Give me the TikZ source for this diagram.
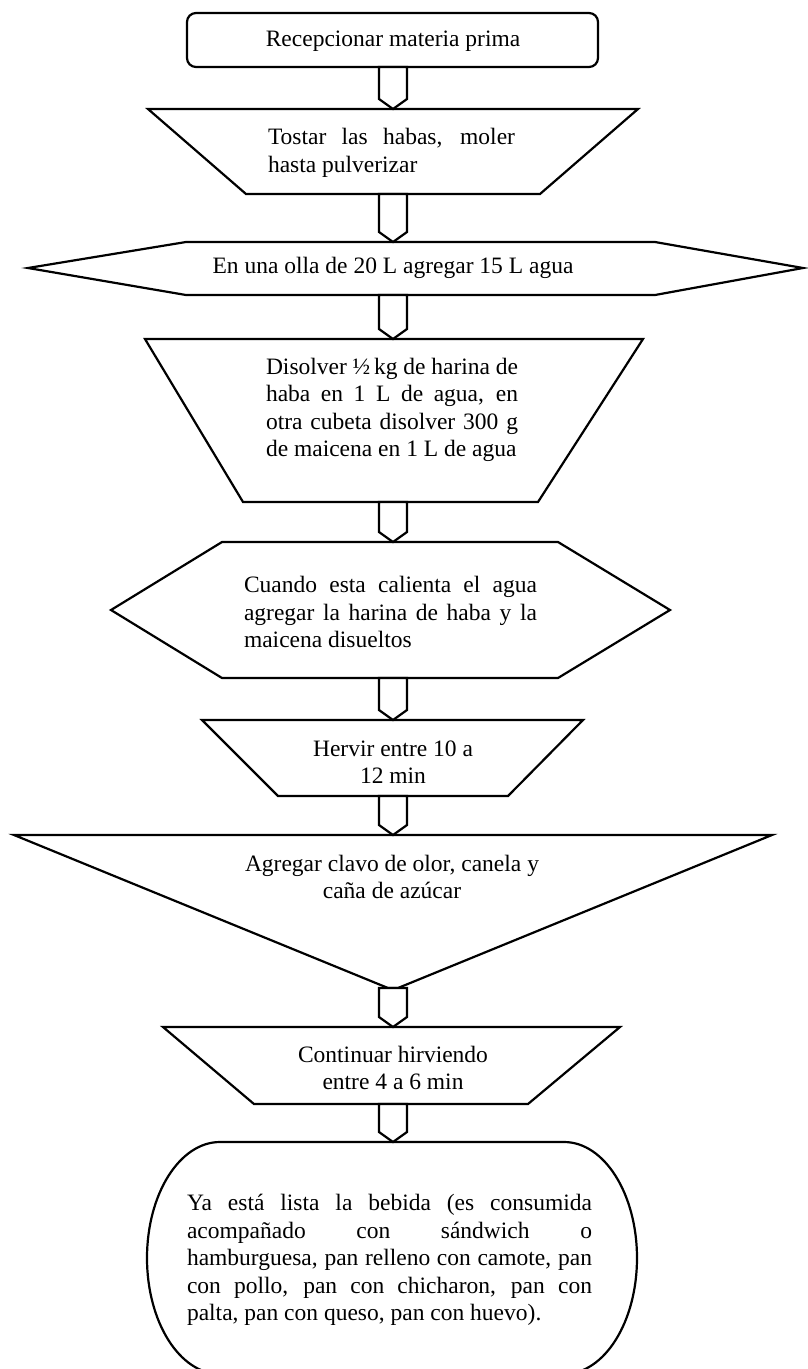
\documentclass[tikz,border=0pt]{standalone}
\usepackage{fontspec}
\setmainfont{Liberation Serif}
\usetikzlibrary{calc}

\tikzset{
  flowshape/.style={draw=black, line width=2.2pt, line join=miter, fill=white},
  steptext/.style={inner sep=0pt, align=center, font=\fontsize{23.5}{27.5}\selectfont},
  blocktext/.style={inner sep=0pt, align=left, font=\fontsize{23.5}{27.5}\selectfont},
}

% block arrow joining the bottom of one step (#1) to the top of the next (#2)
\newcommand\flowlink[2]{%
  \draw[flowshape] ($(#1)+(-14,0)$) -- ($(#2)+(-14,-10)$) -- (#2)
    -- ($(#2)+(14,-10)$) -- ($(#1)+(14,0)$) -- cycle;}

\begin{document}
\begin{tikzpicture}[x=1pt,y=-1pt]
\useasboundingbox (0,0) rectangle (807,1369);

% step outlines
\draw[flowshape, rounded corners=9pt] (187,13) rectangle (598,67);
\coordinate (o1) at (393,67);

\draw[flowshape] (148,109) -- (638,109) -- (540,194) -- (246,194) -- cycle;
\coordinate (i2) at (393,109); \coordinate (o2) at (393,194);

\draw[flowshape] (28,268) -- (186,242) -- (655,242) -- (803,268) -- (655,295) -- (186,295) -- cycle;
\coordinate (i3) at (393,242); \coordinate (o3) at (393,295);

\draw[flowshape] (145,339) -- (643,339) -- (538,502) -- (243,502) -- cycle;
\coordinate (i4) at (393,339); \coordinate (o4) at (393,502);

\draw[flowshape] (111,610) -- (222,542) -- (558,542) -- (670,610) -- (558,678) -- (222,678) -- cycle;
\coordinate (i5) at (393,542); \coordinate (o5) at (393,678);

\draw[flowshape] (202,720) -- (583,720) -- (508,796) -- (278,796) -- cycle;
\coordinate (i6) at (393,720); \coordinate (o6) at (393,796);

\draw[flowshape] (14,835) -- (772,835) -- (398,988) -- (388,988) -- cycle;
\coordinate (i7) at (393,835); \coordinate (o7) at (393,988);

\draw[flowshape] (163,1027) -- (620,1027) -- (528,1104) -- (254,1104) -- cycle;
\coordinate (i8) at (393,1027); \coordinate (o8) at (393,1104);

\draw[flowshape] (220,1142) -- (564,1142)
  arc[start angle=-90, end angle=90, x radius=73, y radius=116]
  -- (220,1374)
  arc[start angle=90, end angle=270, x radius=73, y radius=116] -- cycle;
\coordinate (i9) at (393,1142);

% connectors
\flowlink{o1}{i2}
\flowlink{o2}{i3}
\flowlink{o3}{i4}
\flowlink{o4}{i5}
\flowlink{o5}{i6}
\flowlink{o6}{i7}
\flowlink{o7}{i8}
\flowlink{o8}{i9}

% step texts
\node[steptext] (t1) at (393,41) {Recepcionar materia prima};
\node[blocktext] (t2) at (391.5,153)
  {\makebox[247pt][s]{Tostar las habas, moler}\\hasta pulverizar};
\node[steptext] (t3) at (393,268) {En una olla de 20 L agregar 15 L agua};
\node[blocktext] (t4) at (392,410)
  {\makebox[252pt][s]{Disolver ½\,kg de harina de}\\
   \makebox[252pt][s]{haba en 1 L de agua, en}\\
   \makebox[252pt][s]{otra cubeta disolver 300 g}\\
   de maicena en 1 L de agua};
\node[blocktext] (t5) at (390.5,612)
  {\makebox[293pt][s]{Cuando esta calienta el agua}\\
   \makebox[293pt][s]{agregar la harina de haba y la}\\
   maicena disueltos};
\node[steptext] (t6) at (393,762) {Hervir entre 10 a\\12 min};
\node[steptext] (t7) at (392,877) {Agregar clavo de olor, canela y\\caña de azúcar};
\node[steptext] (t8) at (393,1068) {Continuar hirviendo\\entre 4 a 6 min};
\node[blocktext] (t9) at (389.5,1260)
  {\makebox[405pt][s]{Ya está lista la bebida (es consumida}\\
   \makebox[405pt][s]{acompañado con sándwich o}\\
   \makebox[405pt][s]{hamburguesa, pan relleno con camote, pan}\\
   \makebox[405pt][s]{con pollo, pan con chicharon, pan con}\\
   palta, pan con queso, pan con huevo).};
\end{tikzpicture}
\end{document}
